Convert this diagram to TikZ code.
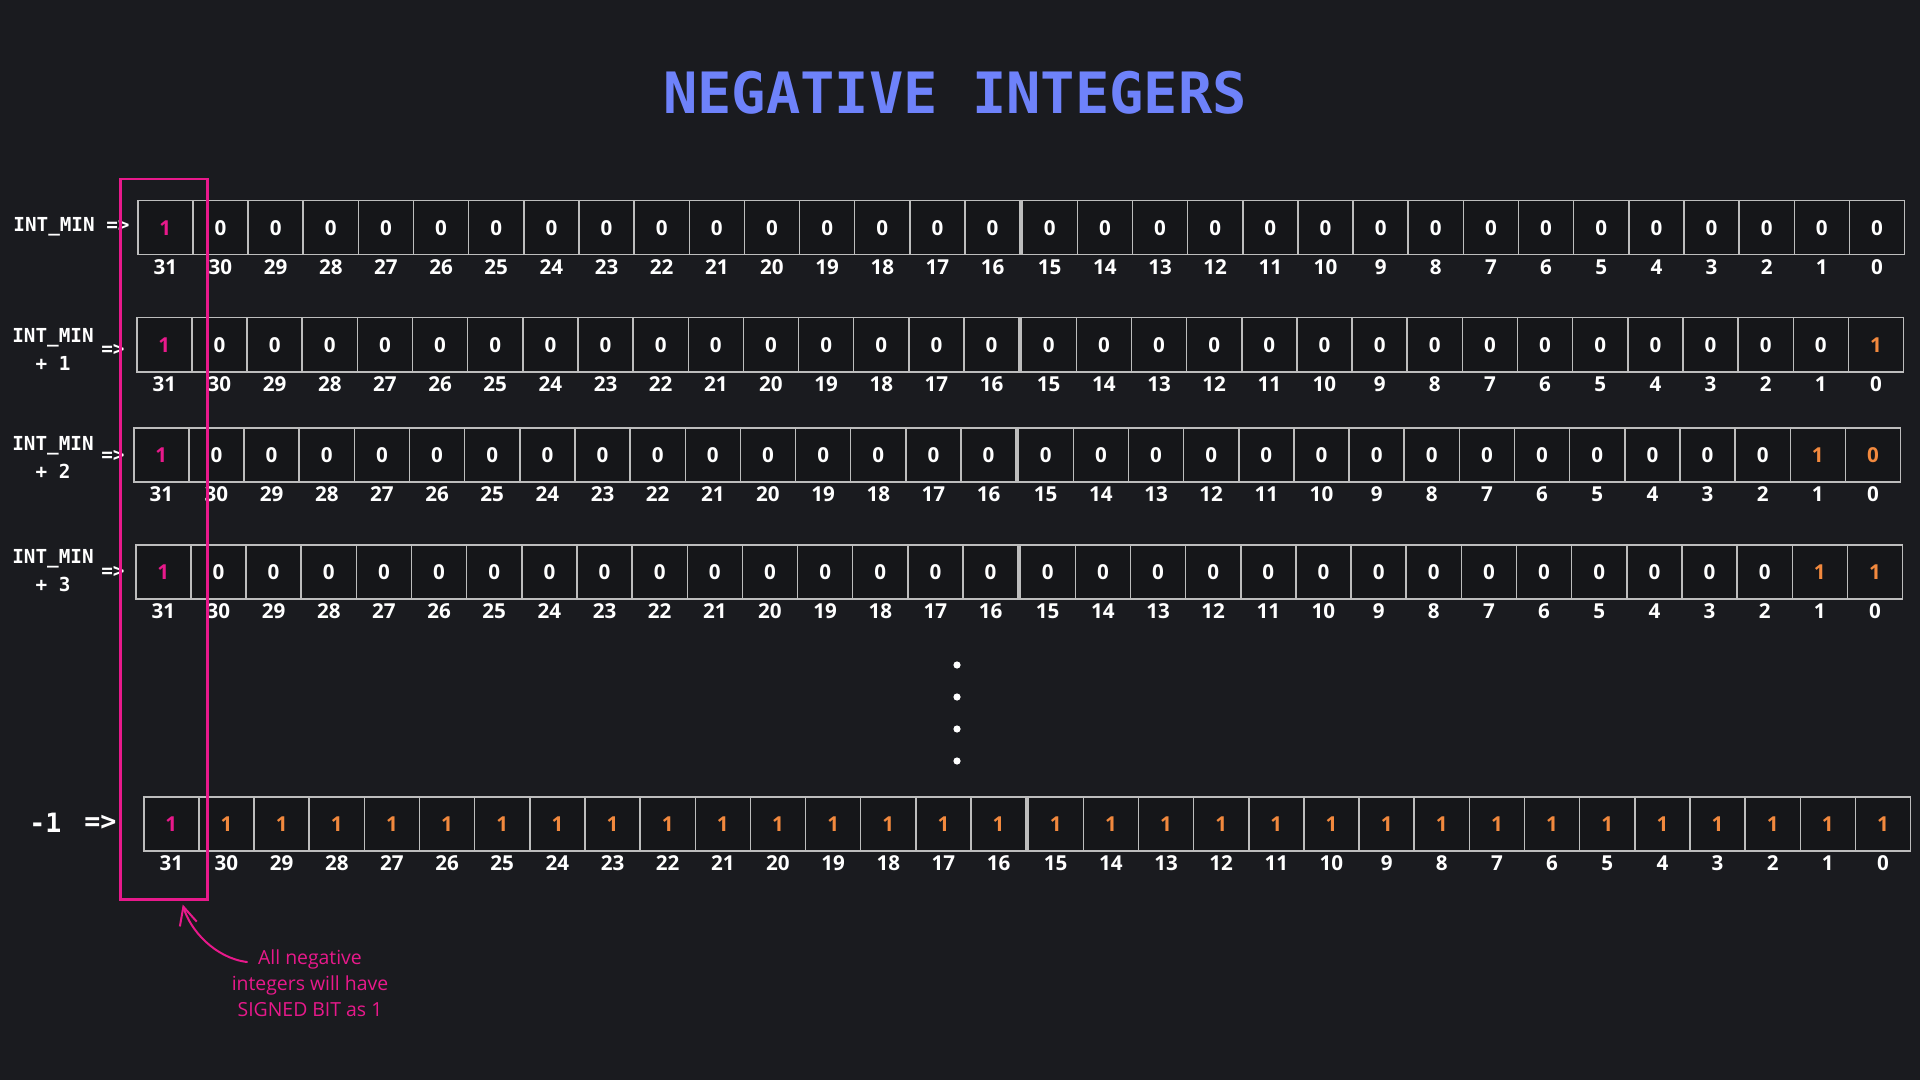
\documentclass[tikz,border=0pt]{standalone}
\usepackage{fontspec}
\setmainfont{Open Sans}
\newfontfamily\monofnt{DejaVu Sans Mono}
\usetikzlibrary{arrows.meta}
\definecolor{bg}{HTML}{1A1B1F}
\definecolor{cellbg}{HTML}{151619}
\definecolor{gridc}{HTML}{BDBDBD}
\definecolor{pinkc}{HTML}{E8198B}
\definecolor{orangec}{HTML}{F2893E}
\definecolor{titlec}{HTML}{6E82FA}
\tikzset{
  bitcell/.style={draw=gridc, line width=0.75pt, fill=cellbg, minimum width=27.575pt, minimum height=27pt, inner sep=0pt, anchor=north west},
  val/.style={font=\bfseries\fontsize{10.3}{11}\selectfont, text=white, inner sep=0pt},
  idx/.style={font=\bfseries\fontsize{10.3}{11}\selectfont, text=white, inner sep=0pt},
  lbl/.style={font=\monofnt\bfseries\fontsize{9.65}{14}\selectfont, text=white, inner sep=0pt},
  biglbl/.style={font=\monofnt\bfseries\fontsize{13.3}{16}\selectfont, text=white, inner sep=0pt},
  titlestyle/.style={font=\monofnt\bfseries\fontsize{28.5}{34}\selectfont, text=titlec, inner sep=0pt},
  notestyle/.style={font=\fontsize{9.7}{13}\selectfont, text=pinkc, align=center, inner sep=0pt},
  signbox/.style={draw=pinkc, line width=1.25pt, minimum width=43.5pt, minimum height=360pt, inner sep=0pt, anchor=north west},
  dotstyle/.style={circle, fill=white, minimum size=3.6pt, inner sep=0pt},
  notearrow/.style={draw=pinkc, line width=1pt, line cap=round, -{Straight Barb[length=9pt,width=8.75pt,line width=1pt]}}
}
\newcommand\bitrow[3]{%
  \foreach \i in {0,...,31}{%
    \pgfmathtruncatemacro\bitnum{31-\i}%
    \pgfmathsetmacro\cellx{#2+\i*55.15+(\i>15)*2}%
    \node[bitcell] (#1-\bitnum) at (\cellx,#3) {};
    \node[idx] (#1-i\bitnum) at ([yshift=-6pt]#1-\bitnum.south) {\bitnum};
  }%
}
\begin{document}
\begin{tikzpicture}[x=0.5pt,y=-0.5pt]
\fill[bg] (0,0) rectangle (1920,1080);
\useasboundingbox (0,0) rectangle (1920,1080);

\node[titlestyle] (title) at (955,93) {NEGATIVE INTEGERS};

% rows of cells
\bitrow{r1}{137}{200}
\bitrow{r2}{136}{317}
\bitrow{r3}{133}{427}
\bitrow{r4}{135}{544}
\bitrow{r5}{143}{796}

% row 1: INT_MIN
\foreach \b in {0,...,30}{\node[val] at (r1-\b) {0};}
\node[val, text=pinkc] at (r1-31) {1};
% row 2: INT_MIN + 1
\foreach \b in {1,...,30}{\node[val] at (r2-\b) {0};}
\node[val, text=pinkc] at (r2-31) {1};
\node[val, text=orangec] at (r2-0) {1};
% row 3: INT_MIN + 2
\foreach \b in {2,...,30}{\node[val] at (r3-\b) {0};}
\node[val, text=pinkc] at (r3-31) {1};
\node[val, text=orangec] at (r3-1) {1};
\node[val, text=orangec] at (r3-0) {0};
% row 4: INT_MIN + 3
\foreach \b in {2,...,30}{\node[val] at (r4-\b) {0};}
\node[val, text=pinkc] at (r4-31) {1};
\node[val, text=orangec] at (r4-1) {1};
\node[val, text=orangec] at (r4-0) {1};
% row 5: -1
\foreach \b in {0,...,30}{\node[val, text=orangec] at (r5-\b) {1};}
\node[val, text=pinkc] at (r5-31) {1};

% left labels
\node[lbl, anchor=west] (l1) at (13,227) {INT\_MIN =>};
\node[lbl, align=center] (l2) at (53,349) {INT\_MIN\\+ 1};
\node[lbl] (a2) at (113,350) {=>};
\node[lbl, align=center] (l3) at (53,457) {INT\_MIN\\+ 2};
\node[lbl] (a3) at (113,456) {=>};
\node[lbl, align=center] (l4) at (53,571) {INT\_MIN\\+ 3};
\node[lbl] (a4) at (113,572) {=>};
\node[biglbl, anchor=west] (l5) at (29,823) {-1};
\node[biglbl, anchor=west] (a5) at (84,823) {=>};

% dots
\node[dotstyle] (d1) at (957,665) {};
\node[dotstyle] (d2) at (957,697) {};
\node[dotstyle] (d3) at (957,729) {};
\node[dotstyle] (d4) at (957,761) {};

% signed bit highlight
\node[signbox] (sb) at (119,178) {};

% note
\node[notestyle] (note) at (310,983) {All negative\\integers will have\\SIGNED BIT as 1};
\coordinate (ast) at (247,962);
\draw[notearrow] (ast) .. controls (215,958) and (190,930) .. ([xshift=9.5pt,yshift=-2pt]sb.south);
\end{tikzpicture}
\end{document}
